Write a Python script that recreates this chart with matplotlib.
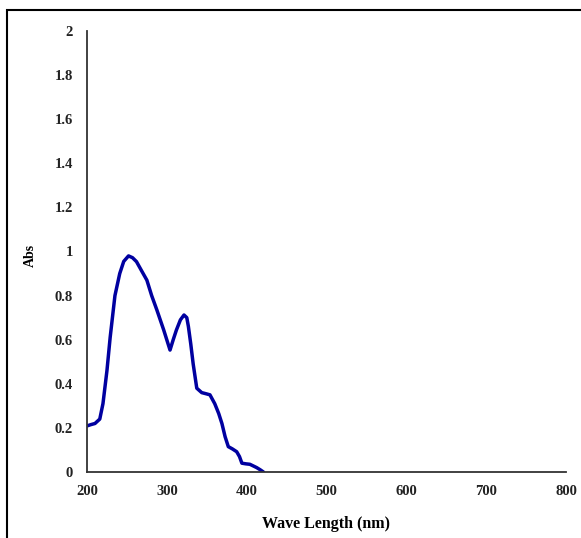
import matplotlib.pyplot as plt
from matplotlib.patches import Rectangle

# UV-Vis absorption spectrum
wavelength = [200, 205, 210, 216, 220, 225, 229, 235, 241, 246, 252, 257, 262, 268,
              275, 281, 287.5, 296, 304, 308, 312, 317, 321.5, 325, 327, 330, 333,
              337.5, 343.7, 349, 354, 360, 365, 369, 373, 377, 382, 387.5, 391,
              394, 399, 404, 408, 412.5, 417, 421]
absorbance = [0.209, 0.215, 0.22, 0.24, 0.31, 0.46, 0.61, 0.80, 0.90, 0.955, 0.98, 0.972,
              0.954, 0.915, 0.87, 0.80, 0.735, 0.645, 0.553, 0.60, 0.644, 0.69, 0.712, 0.70,
              0.66, 0.58, 0.49, 0.38, 0.36, 0.355, 0.35, 0.31, 0.265, 0.22, 0.16, 0.115,
              0.105, 0.092, 0.07, 0.04, 0.037, 0.035, 0.028, 0.02, 0.01, 0.0]

x_ticks = [200, 300, 400, 500, 600, 700, 800]
y_ticks = [0, 0.2, 0.4, 0.6, 0.8, 1, 1.2, 1.4, 1.6, 1.8, 2]
y_labels = ["0", "0.2", "0.4", "0.6", "0.8", "1", "1.2", "1.4", "1.6", "1.8", "2"]

plt.rcParams['font.family'] = ['Liberation Serif', 'DejaVu Serif']

fig = plt.figure(figsize=(5.81, 5.38), dpi=100)
ax = fig.add_axes([87/581, 66/538, 479/581, 441/538])

ax.plot(wavelength, absorbance, color='#0000a0', linewidth=2.5,
        solid_capstyle='round', solid_joinstyle='round')

ax.set_xlim(200, 800)
ax.set_ylim(0, 2)
ax.set_xticks(x_ticks)
ax.set_xticklabels([str(t) for t in x_ticks], fontsize=10.5, fontweight='bold', color='#222222')
ax.set_yticks(y_ticks)
ax.set_yticklabels(y_labels, fontsize=10.5, fontweight='bold', color='#222222')
ax.tick_params(axis='y', length=0, pad=10)
ax.tick_params(axis='x', length=0, pad=9.5)

for side in ['top', 'right']:
    ax.spines[side].set_visible(False)
for side in ['left', 'bottom']:
    ax.spines[side].set_color('#333333')
    ax.spines[side].set_linewidth(1.3)

ax.set_xlabel("Wave Length (nm)", fontsize=11.5, fontweight='bold')
ax.set_ylabel("Abs", fontsize=10, fontweight='bold', va='center')
ax.xaxis.set_label_coords(0.5, -0.099)
ax.yaxis.set_label_coords(-0.119, 0.49)

# outer frame of the original picture
fig.patches.append(Rectangle((7/581, -0.1), 1.2, 1 - 10/538 + 0.1, transform=fig.transFigure,
                             fill=False, edgecolor='black', linewidth=1.5))

fig.savefig("out.png", dpi=100)
